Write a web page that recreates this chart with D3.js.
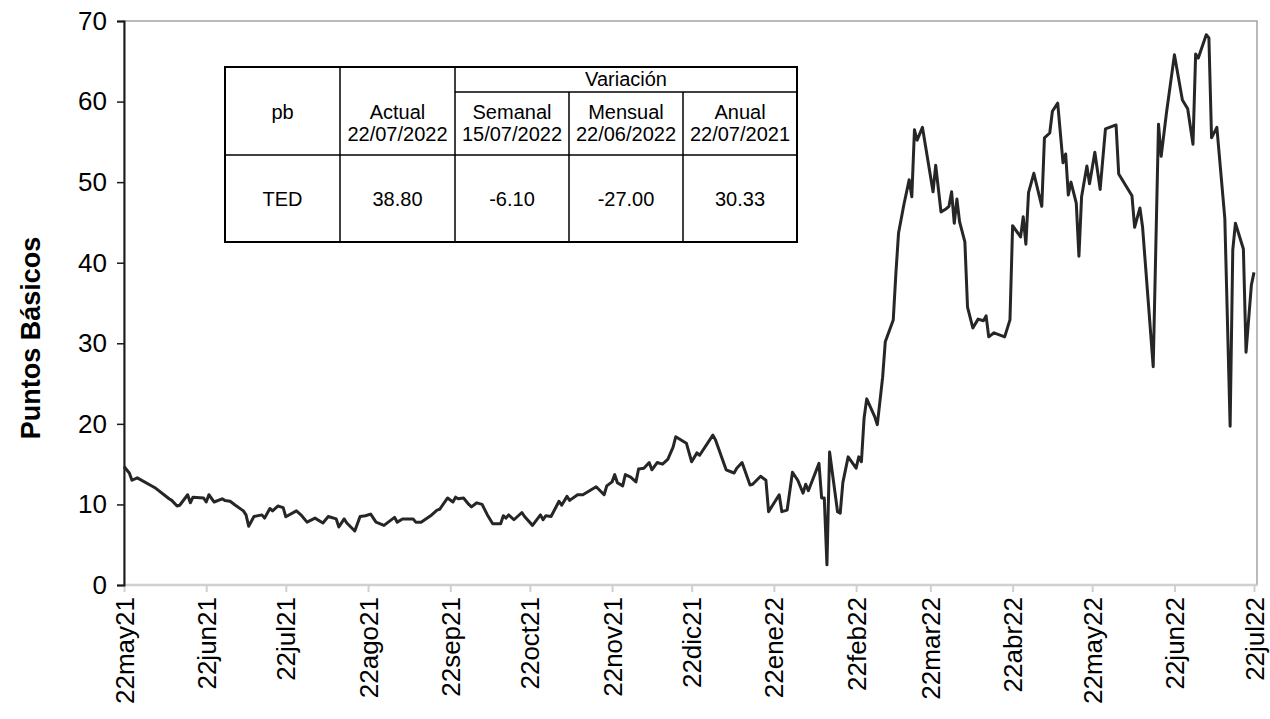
<!DOCTYPE html>
<html lang="es">
<head>
  <meta charset="UTF-8">
  <title>TED</title>
  <script src="https://d3js.org/d3.v7.min.js"></script>
  <style>
    body {
      margin: 0;
      background: #fff;
      font-family: "Liberation Sans", Arial, sans-serif;
    }
    .line {
      fill: none;
      stroke: #262626;
      stroke-width: 3px;
      stroke-linejoin: round;
    }
    .tbl text {
      font-size: 20px;
      fill: #000;
      text-anchor: middle;
    }
  </style>
</head>
<body>
  <div id="chart"></div>

  <script>
    // serie TED (pb)
    const fechas = [
      "2021-05-22","2021-05-24","2021-05-25","2021-05-27","2021-06-02","2021-06-03","2021-06-08","2021-06-09",
      "2021-06-11","2021-06-12","2021-06-15","2021-06-16","2021-06-17","2021-06-21","2021-06-22","2021-06-23",
      "2021-06-25","2021-06-28","2021-06-29","2021-07-01","2021-07-03","2021-07-06","2021-07-07","2021-07-08",
      "2021-07-10","2021-07-13","2021-07-14","2021-07-16","2021-07-17","2021-07-19","2021-07-21","2021-07-22",
      "2021-07-26","2021-07-28","2021-07-30","2021-08-02","2021-08-05","2021-08-07","2021-08-10","2021-08-11",
      "2021-08-13","2021-08-14","2021-08-17","2021-08-19","2021-08-21","2021-08-23","2021-08-25","2021-08-28",
      "2021-09-01","2021-09-02","2021-09-04","2021-09-08","2021-09-09","2021-09-11","2021-09-15","2021-09-17",
      "2021-09-18","2021-09-21","2021-09-23","2021-09-24","2021-09-25","2021-09-27","2021-09-29","2021-09-30",
      "2021-10-02","2021-10-04","2021-10-06","2021-10-08","2021-10-11","2021-10-12","2021-10-13","2021-10-14",
      "2021-10-16","2021-10-19","2021-10-20","2021-10-23","2021-10-26","2021-10-27","2021-10-28","2021-10-30",
      "2021-11-02","2021-11-03","2021-11-05","2021-11-06","2021-11-09","2021-11-11","2021-11-16","2021-11-19",
      "2021-11-20","2021-11-22","2021-11-23","2021-11-24","2021-11-26","2021-11-27","2021-11-29","2021-12-01",
      "2021-12-02","2021-12-04","2021-12-06","2021-12-07","2021-12-09","2021-12-11","2021-12-13","2021-12-15",
      "2021-12-16","2021-12-20","2021-12-22","2021-12-24","2021-12-25","2021-12-30","2021-12-31","2022-01-04",
      "2022-01-07","2022-01-08","2022-01-10","2022-01-13","2022-01-14","2022-01-17","2022-01-19","2022-01-20",
      "2022-01-24","2022-01-25","2022-01-27","2022-01-29","2022-01-31","2022-02-02","2022-02-03","2022-02-04",
      "2022-02-08","2022-02-09","2022-02-10","2022-02-11","2022-02-12","2022-02-15","2022-02-16","2022-02-17",
      "2022-02-19","2022-02-22","2022-02-23","2022-02-24","2022-02-25","2022-02-26","2022-03-01","2022-03-02",
      "2022-03-04","2022-03-05","2022-03-08","2022-03-09","2022-03-10","2022-03-12","2022-03-14","2022-03-15",
      "2022-03-16","2022-03-17","2022-03-19","2022-03-23","2022-03-24","2022-03-26","2022-03-28","2022-03-29",
      "2022-03-30","2022-03-31","2022-04-01","2022-04-02","2022-04-04","2022-04-05","2022-04-07","2022-04-09",
      "2022-04-11","2022-04-12","2022-04-13","2022-04-15","2022-04-19","2022-04-21","2022-04-22","2022-04-25",
      "2022-04-26","2022-04-27","2022-04-28","2022-04-30","2022-05-03","2022-05-04","2022-05-06","2022-05-07",
      "2022-05-09","2022-05-11","2022-05-12","2022-05-13","2022-05-14","2022-05-16","2022-05-17","2022-05-18",
      "2022-05-20","2022-05-21","2022-05-23","2022-05-25","2022-05-27","2022-05-31","2022-06-01","2022-06-06",
      "2022-06-07","2022-06-09","2022-06-10","2022-06-14","2022-06-16","2022-06-17","2022-06-19","2022-06-22",
      "2022-06-25","2022-06-27","2022-06-29","2022-06-30","2022-07-01","2022-07-04","2022-07-05","2022-07-06",
      "2022-07-08","2022-07-11","2022-07-13","2022-07-14","2022-07-15","2022-07-18","2022-07-19","2022-07-21",
      "2022-07-22"
    ];
    const valores = [
      14.7, 13.9, 13.0, 13.3, 12.2, 12.0, 10.7, 10.5,
      9.8, 9.9, 11.2, 10.2, 10.9, 10.8, 10.3, 11.2,
      10.3, 10.7, 10.5, 10.4, 9.9, 9.2, 8.7, 7.3,
      8.5, 8.7, 8.3, 9.5, 9.2, 9.8, 9.6, 8.47,
      9.2, 8.6, 7.8, 8.3, 7.7, 8.5, 8.2, 7.2,
      8.2, 7.7, 6.7, 8.5, 8.6, 8.8, 7.8, 7.4,
      8.4, 7.8, 8.2, 8.2, 7.8, 7.8, 8.7, 9.3,
      9.4, 10.8, 10.3, 10.9, 10.7, 10.8, 10.0, 9.7,
      10.2, 10.0, 8.7, 7.6, 7.6, 8.6, 8.3, 8.7,
      8.1, 9.0, 8.5, 7.4, 8.7, 8.1, 8.6, 8.5,
      10.4, 9.9, 11.0, 10.5, 11.2, 11.2, 12.2, 11.2,
      12.3, 12.8, 13.7, 12.7, 12.3, 13.7, 13.4, 12.8,
      14.4, 14.5, 15.2, 14.3, 15.2, 15.0, 15.6, 17.1,
      18.4, 17.6, 15.3, 16.4, 16.1, 18.6, 18.0, 14.3,
      13.9, 14.5, 15.2, 12.4, 12.5, 13.5, 13.0, 9.1,
      11.2, 9.1, 9.3, 14.0, 13.0, 11.4, 12.5, 11.7,
      15.1, 10.8, 10.8, 2.5, 16.5, 9.1, 8.9, 12.7,
      15.9, 14.5, 15.9, 15.3, 20.7, 23.1, 20.9, 19.9,
      25.8, 30.2, 32.9, 38.7, 43.7, 47.2, 50.3, 48.2,
      56.5, 55.2, 56.8, 48.8, 52.1, 46.3, 46.7, 47.0,
      48.8, 44.9, 47.9, 45.1, 42.6, 34.5, 31.9, 33.0,
      32.8, 33.4, 30.8, 31.3, 30.8, 32.9, 44.6, 43.2,
      45.7, 42.3, 48.7, 51.1, 47.0, 55.5, 56.1, 58.8,
      59.8, 52.4, 53.5, 48.4, 50.0, 47.4, 40.8, 48.2,
      52.0, 49.8, 53.7, 49.1, 56.6, 57.1, 51.0, 48.3,
      44.4, 46.8, 44.4, 27.1, 57.2, 53.2, 58.6, 65.8,
      60.2, 59.1, 54.7, 65.9, 65.4, 68.3, 67.9, 55.5,
      56.8, 45.5, 19.7, 41.6, 44.9, 41.7, 28.9, 37.2,
      38.8
    ];

    // eje x: cada 22 del mes
    const fechasTicks = [
      "2021-05-22","2021-06-22","2021-07-22","2021-08-22","2021-09-22","2021-10-22","2021-11-22",
      "2021-12-22","2022-01-22","2022-02-22","2022-03-22","2022-04-22","2022-05-22","2022-06-22","2022-07-22"
    ];
    const meses = ["ene","feb","mar","abr","may","jun","jul","ago","sep","oct","nov","dic"];
    const yTicks = [0, 10, 20, 30, 40, 50, 60, 70];

    // tabla
    const colTitulos = ["Actual", "Semanal", "Mensual", "Anual"];
    const colFechas = ["22/07/2022", "15/07/2022", "22/06/2022", "22/07/2021"];
    const filaTED = ["38.80", "-6.10", "-27.00", "30.33"];

    const width = 1270, height = 719;
    const mLeft = 124, mRight = 1257, mTop = 21, mBottom = 585;

    const parse = d3.timeParse("%Y-%m-%d");
    const data = fechas.map((f, i) => ({ fecha: parse(f), valor: valores[i] }));

    const svg = d3.select("#chart").append("svg")
      .attr("width", width)
      .attr("height", height);

    const x = d3.scaleTime()
      .domain([parse(fechasTicks[0]), parse(fechasTicks[fechasTicks.length - 1])])
      .range([mLeft, 1254]);
    const y = d3.scaleLinear().domain([0, 70]).range([mBottom, mTop]);

    // marco del área de trazado
    svg.append("rect")
      .attr("x", mLeft).attr("y", mTop)
      .attr("width", mRight - mLeft).attr("height", mBottom - mTop)
      .attr("fill", "none").attr("stroke", "#8c8c8c").attr("stroke-width", 1.2);

    // eje x
    const fmt = d => "22" + meses[d.getMonth()] + String(d.getFullYear()).slice(2);
    const xAxis = svg.append("g")
      .attr("transform", `translate(0,${mBottom})`)
      .call(d3.axisBottom(x).tickValues(fechasTicks.map(parse)).tickFormat(fmt).tickSizeOuter(0).tickSize(7));
    xAxis.select(".domain").attr("stroke", "#d0d0d0").attr("stroke-width", 2.5)
      .attr("d", `M${mLeft},0H${mRight}`);
    xAxis.selectAll(".tick line").attr("stroke", "#d0d0d0").attr("stroke-width", 2);
    xAxis.selectAll(".tick text")
      .attr("transform", "rotate(-90)")
      .attr("x", -12).attr("y", 0).attr("dy", "0.35em")
      .style("text-anchor", "end")
      .style("font-size", "26px")
      .style("font-family", "Liberation Sans, Arial, sans-serif")
      .attr("fill", "#000");

    // eje y
    const yAxis = svg.append("g")
      .attr("transform", `translate(${mLeft},0)`)
      .call(d3.axisLeft(y).tickValues(yTicks).tickSizeOuter(0).tickSize(7).tickPadding(10));
    yAxis.select(".domain").attr("stroke", "#1a1a1a").attr("stroke-width", 2);
    yAxis.selectAll(".tick line").attr("stroke", "#1a1a1a").attr("stroke-width", 1.5);
    yAxis.selectAll(".tick text")
      .style("font-size", "26px")
      .style("font-family", "Liberation Sans, Arial, sans-serif")
      .attr("fill", "#000");

    svg.append("text")
      .attr("transform", "translate(40,338) rotate(-90)")
      .attr("text-anchor", "middle")
      .style("font-size", "27px")
      .style("font-weight", "bold")
      .text("Puntos Básicos");

    // línea
    const line = d3.line().x(d => x(d.fecha)).y(d => y(d.valor));
    svg.append("path").datum(data).attr("class", "line").attr("d", line);

    // tabla de variaciones
    const cols = [225, 340, 455, 569, 683, 797];
    const rows = [67, 92, 155, 242];
    const tbl = svg.append("g").attr("class", "tbl");
    tbl.append("rect")
      .attr("x", cols[0]).attr("y", rows[0])
      .attr("width", cols[5] - cols[0]).attr("height", rows[3] - rows[0])
      .attr("fill", "#fff").attr("stroke", "#000").attr("stroke-width", 2);
    cols.slice(1, 5).forEach((c, i) => {
      tbl.append("line")
        .attr("x1", c).attr("x2", c)
        .attr("y1", i < 2 ? rows[0] : rows[1]).attr("y2", rows[3])
        .attr("stroke", "#000").attr("stroke-width", 1.5);
    });
    tbl.append("line").attr("x1", cols[2]).attr("x2", cols[5])
      .attr("y1", rows[1]).attr("y2", rows[1]).attr("stroke", "#000").attr("stroke-width", 1.5);
    tbl.append("line").attr("x1", cols[0]).attr("x2", cols[5])
      .attr("y1", rows[2]).attr("y2", rows[2]).attr("stroke", "#000").attr("stroke-width", 1.5);

    const mid = i => (cols[i] + cols[i + 1]) / 2;
    tbl.append("text").attr("x", (cols[2] + cols[5]) / 2).attr("y", 86).text("Variación");
    tbl.append("text").attr("x", mid(0)).attr("y", 119).text("pb");
    colTitulos.forEach((t, i) => {
      tbl.append("text").attr("x", mid(i + 1)).attr("y", 119).text(t);
      tbl.append("text").attr("x", mid(i + 1)).attr("y", 141).text(colFechas[i]);
    });
    tbl.append("text").attr("x", mid(0)).attr("y", 206).text("TED");
    filaTED.forEach((v, i) => {
      tbl.append("text").attr("x", mid(i + 1)).attr("y", 206).text(v);
    });
  </script>
</body>
</html>
